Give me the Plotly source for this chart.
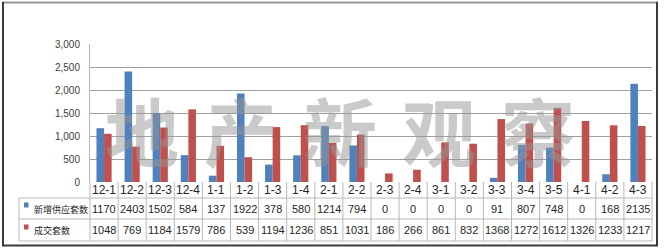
import plotly.graph_objects as go

# ---------------- data ----------------
categories = ["12-1", "12-2", "12-3", "12-4", "1-1", "1-2", "1-3", "1-4", "2-1", "2-2",
              "2-3", "2-4", "3-1", "3-2", "3-3", "3-4", "3-5", "4-1", "4-2", "4-3"]
supply = [1170, 2403, 1502, 584, 137, 1922, 378, 580, 1214, 794,
          0, 0, 0, 0, 91, 807, 748, 0, 168, 2135]
deals = [1048, 769, 1184, 1579, 786, 539, 1194, 1236, 851, 1031,
         186, 266, 861, 832, 1368, 1272, 1612, 1326, 1233, 1217]
series_names = ["新增供应套数", "成交套数"]
y_ticks = [0, 500, 1000, 1500, 2000, 2500, 3000]
watermark = "地产新观察"

# ---------------- layout constants (pixels) ----------------
W, H = 665, 249
L, R, T, B = 90, 652, 44, 182
BLUE, RED = "#4F81BD", "#C0504D"
GRID = "#a0a0a0"
TABLE = "#b8b8b8"
TXT = "#262626"


def px(x):
    return (x - L) / (R - L)


def py(y):
    return (B - y) / (B - T)


fig = go.Figure()
fig.add_bar(x=categories, y=supply, name=series_names[0], marker_color=BLUE,
            marker_line_width=0)
fig.add_bar(x=categories, y=deals, name=series_names[1], marker_color=RED,
            marker_line_width=0)

shapes = []
annotations = []

# table horizontal lines (below the category row, between rows, bottom)
for yy in (198, 219, 241):
    shapes.append(dict(type="line", xref="paper", yref="paper",
                       x0=px(19), x1=1, y0=py(yy), y1=py(yy),
                       line=dict(color=TABLE, width=1)))
# left column border
shapes.append(dict(type="line", xref="paper", yref="paper",
                   x0=px(19), x1=px(19), y0=py(198), y1=py(241),
                   line=dict(color=TABLE, width=1)))
# category boundaries
n = len(categories)
for i in range(n + 1):
    shapes.append(dict(type="line", xref="paper", yref="paper",
                       x0=i / n, x1=i / n, y0=0, y1=py(241),
                       line=dict(color=TABLE, width=1)))

# table text
for i, c in enumerate(categories):
    annotations.append(dict(x=c, xref="x", y=py(190), yref="paper", text=c,
                            showarrow=False, xanchor="center", yanchor="middle",
                            font=dict(size=12, color=TXT)))
    annotations.append(dict(x=c, xref="x", y=py(209), yref="paper", text=str(supply[i]),
                            showarrow=False, xanchor="center", yanchor="middle",
                            font=dict(size=11, color=TXT)))
    annotations.append(dict(x=c, xref="x", y=py(230), yref="paper", text=str(deals[i]),
                            showarrow=False, xanchor="center", yanchor="middle",
                            font=dict(size=11, color=TXT)))

# legend keys in the table
for name, col, ysq, ytx in ((series_names[0], BLUE, 205, 209), (series_names[1], RED, 227, 230)):
    shapes.append(dict(type="rect", xref="paper", yref="paper",
                       x0=px(24), x1=px(28.5), y0=py(ysq - 2.5), y1=py(ysq + 2.5),
                       fillcolor=col, line=dict(width=0)))
    annotations.append(dict(x=px(32), xref="paper", y=py(ytx), yref="paper", text=name,
                            showarrow=False, xanchor="left", yanchor="middle",
                            font=dict(size=9, color=TXT, family="Noto Sans CJK SC")))

# watermark
for k, ch in enumerate(watermark):
    annotations.append(dict(x=px(142 + 99 * k), xref="paper", y=py(128), yref="paper",
                            text=ch, showarrow=False, xanchor="center", yanchor="middle",
                            font=dict(size=74, color="rgba(150,150,150,0.5)",
                                      family="Noto Sans CJK SC", weight="bold")))

# outer frame
shapes.append(dict(type="line", xref="paper", yref="paper", x0=px(2), x1=px(658),
                   y0=py(2.5), y1=py(2.5), line=dict(color="#999999", width=2)))
for (xa, ya, xb, yb) in ((3, 2, 3, 246), (657, 2, 657, 246), (2, 245.5, 658, 245.5)):
    shapes.append(dict(type="line", xref="paper", yref="paper", x0=px(xa), x1=px(xb),
                       y0=py(ya), y1=py(yb), line=dict(color="#3a3a3a", width=2)))

fig.update_layout(
    width=W, height=H,
    margin=dict(l=L, r=W - R, t=T, b=H - B, pad=0),
    paper_bgcolor="white", plot_bgcolor="white",
    showlegend=False,
    barmode="group", bargap=0.46, bargroupgap=0,
    font=dict(family="Liberation Sans", color=TXT),
    shapes=shapes, annotations=annotations,
    xaxis=dict(type="category", range=[-0.5, n - 0.5], showticklabels=False, ticks="",
               showgrid=False, showline=False, zeroline=False, fixedrange=True),
    yaxis=dict(range=[0, 3000], tickvals=y_ticks, tickformat=",",
               showgrid=True, gridcolor=GRID, gridwidth=1,
               showline=True, linecolor=TABLE, zeroline=False, ticks="",
               ticklabelstandoff=7, tickfont=dict(size=10, color="#404040")),
)

fig.write_html("out.html")
